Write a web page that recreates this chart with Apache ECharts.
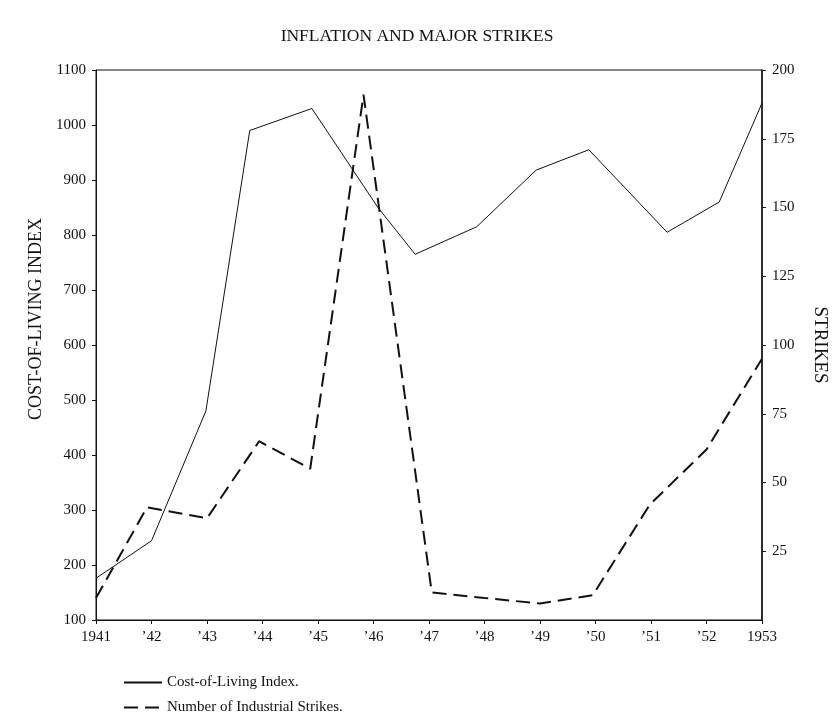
<!DOCTYPE html>
<html>
<head>
<meta charset="utf-8">
<script src="https://cdn.jsdelivr.net/npm/echarts@6/dist/echarts.min.js"></script>
<style>
	html, body { margin: 0; padding: 0; background: #fff; }
	#chart { width: 834px; height: 724px; }
</style>
</head>
<body>
<div id="chart"></div>
<script>
// 生活费指数（左轴），年份位置按原图读取
var costYears = [1941, 1942, 1942.98, 1943.77, 1944.89, 1946.08, 1946.75, 1947.86, 1948.93, 1949.88, 1951.29, 1952.23, 1953];
var costValues = [176, 244, 480, 990, 1030, 850, 765, 815, 918, 955, 805, 860, 1040];

// 罢工次数（右轴）
var strikeYears = [1941, 1941.92, 1943, 1943.94, 1944.86, 1945.82, 1947.05, 1948, 1949, 1949.95, 1950.98, 1952, 1953];
var strikeValues = [8, 41, 37, 65, 55, 191, 10, 8, 6, 9, 42, 62, 95];

var serif = "'Liberation Serif', 'DejaVu Serif', serif";

function pairs(xs, ys) {
	var out = [];
	for(var i = 0; i < xs.length; i++) {
		out.push([xs[i], ys[i]]);
	}
	return out;
}

var myChart = echarts.init(document.getElementById('chart'));

var option = {
	backgroundColor: '#fff',
	animation: false,
	title: {
		text: 'INFLATION AND MAJOR STRIKES',
		left: 'center',
		top: 22,
		textStyle: { fontFamily: serif, fontSize: 17.5, fontWeight: 'normal', color: '#111' }
	},
	grid: {
		left: 96, right: 72, top: 70, bottom: 104,
		outerBoundsMode: 'none',
		show: true, borderColor: '#111', borderWidth: 1
	},
	legend: {
		orient: 'vertical',
		left: 118,
		top: 670,
		itemGap: 10,
		itemWidth: 38,
		itemHeight: 10,
		itemStyle: { opacity: 0 },
		textStyle: { fontFamily: serif, fontSize: 15, color: '#111' },
		data: ['Cost-of-Living Index.', 'Number of Industrial Strikes.']
	},
	xAxis: {
		type: 'value',
		min: 1941,
		max: 1953,
		interval: 1,
		splitLine: { show: false },
		axisLine: { lineStyle: { color: '#111', width: 1 } },
		axisTick: { length: 4, lineStyle: { color: '#111' } },
		axisLabel: {
			fontFamily: serif, fontSize: 15, color: '#111', margin: 10,
			formatter: function(v) {
				if(v == 1941 || v == 1953) return String(v);
				return '\u2019' + String(v).slice(2);
			}
		}
	},
	yAxis: [{
		type: 'value',
		min: 100,
		max: 1100,
		interval: 100,
		name: 'COST-OF-LIVING INDEX',
		nameLocation: 'middle',
		nameGap: 46,
		nameTextStyle: { fontFamily: serif, fontSize: 18, color: '#111', padding: [0, 0, 0, 52] },
		splitLine: { show: false },
		axisLine: { show: true, lineStyle: { color: '#111', width: 1 } },
		axisTick: { show: true, length: 4, lineStyle: { color: '#111' } },
		axisLabel: {
			fontFamily: serif, fontSize: 15, color: '#111', margin: 10,
			formatter: function(v) { return String(v); }
		}
	}, {
		type: 'value',
		min: 0,
		max: 200,
		interval: 25,
		position: 'right',
		name: 'STRIKES',
		nameLocation: 'middle',
		nameGap: 48,
		nameRotate: -90,
		nameTextStyle: { fontFamily: serif, fontSize: 19, color: '#111' },
		splitLine: { show: false },
		axisLine: { show: true, lineStyle: { color: '#111', width: 1.5 } },
		axisTick: { show: true, length: 4, lineStyle: { color: '#111' } },
		axisLabel: { fontFamily: serif, fontSize: 15, color: '#111', margin: 10, showMinLabel: false }
	}],
	series: [{
		name: 'Cost-of-Living Index.',
		type: 'line',
		yAxisIndex: 0,
		symbol: 'none',
		lineStyle: { color: '#111', width: 1 },
		itemStyle: { color: '#111' },
		data: pairs(costYears, costValues)
	}, {
		name: 'Number of Industrial Strikes.',
		type: 'line',
		yAxisIndex: 1,
		symbol: 'none',
		lineStyle: { color: '#111', width: 2, type: [14, 7] },
		itemStyle: { color: '#111' },
		data: pairs(strikeYears, strikeValues)
	}]
};

myChart.setOption(option);
</script>
</body>
</html>
